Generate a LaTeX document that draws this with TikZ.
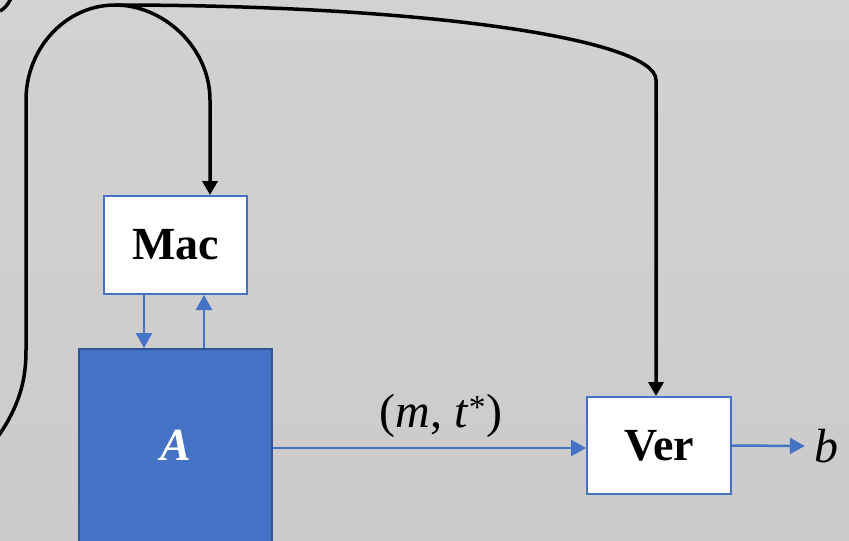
\documentclass[tikz,border=0pt]{standalone}
\usepackage{fontspec}
\setmainfont{Liberation Serif}
\usetikzlibrary{arrows.meta}
\definecolor{bgtop}{RGB}{210,210,210}
\definecolor{bgbot}{RGB}{203,203,203}
\definecolor{ablue}{RGB}{68,114,196}
\definecolor{adark}{RGB}{47,85,151}
\tikzset{
  whitebox/.style={draw=ablue, line width=2pt, fill=white, inner sep=0pt,
    font=\fontsize{46}{55}\selectfont\bfseries},
  advbox/.style={draw=adark, line width=2pt, fill=ablue, inner sep=0pt,
    text=white, font=\fontsize{46}{55}\selectfont\bfseries\itshape},
  bluearrow/.style={draw=ablue, line width=2.5pt, -{Triangle[width=16pt,length=15pt]}},
  blackarrow/.style={draw=black, line width=3.5pt, -{Triangle[width=15pt,length=14pt]}},
  blackline/.style={draw=black, line width=3.5pt},
  mathlabel/.style={inner sep=0pt, font=\fontsize{48}{54}\selectfont}
}
\begin{document}
\begin{tikzpicture}[x=1pt,y=-1pt]
  \useasboundingbox (0,0) rectangle (849,541);
  \clip (0,0) rectangle (849,541);
  \shade[top color=bgtop, bottom color=bgbot] (0,0) rectangle (849,541);

  % nodes
  \node[whitebox, minimum width=143pt, minimum height=98pt] (mac) at (175.5,245) {Mac};
  \node[advbox, minimum width=193pt, minimum height=193pt] (A) at (175.5,445.5) {A};
  \node[whitebox, minimum width=144pt, minimum height=97pt] (ver) at (659,445.5) {Ver};
  \node[mathlabel] (b) at (826,446) {\textit{b}};
  \node[mathlabel] (lbl) at (441,416) {(\textit{m}, \textit{t}\textsuperscript{*})};

  % named coordinates for the black lines
  \coordinate (src) at (-12,450);
  \coordinate (top) at (115,5);
  \coordinate (corner) at (0,11);

  % blue connectors
  \draw[bluearrow] ([xshift=-31.5pt]mac.south) -- ([xshift=-31.5pt]mac.south |- A.north);
  \draw[bluearrow] ([xshift=28.5pt]A.north) -- ([xshift=28.5pt]A.north |- mac.south);
  \draw[bluearrow] ([yshift=-2.5pt]A.east) -- ([yshift=-2.5pt]ver.west);
  \draw[bluearrow] (ver.east) -- ([xshift=-9pt]b.west);

  % black connectors
  \draw[blackarrow] (src) .. controls (20,410) and (26,380) .. (26,350)
     -- (26,100) .. controls (26,48) and (66,5) .. (top)
     .. controls (164,5) and (210,48) .. (210,100)
     -- ([xshift=34.5pt]mac.north);
  \draw[blackarrow] (top) .. controls (430,5) and (656,40) .. (656,80)
     -- ([xshift=-3pt]ver.north);
  \draw[blackline] (corner) .. controls (4,9) and (8,5) .. (11,-2);
\end{tikzpicture}
\end{document}
